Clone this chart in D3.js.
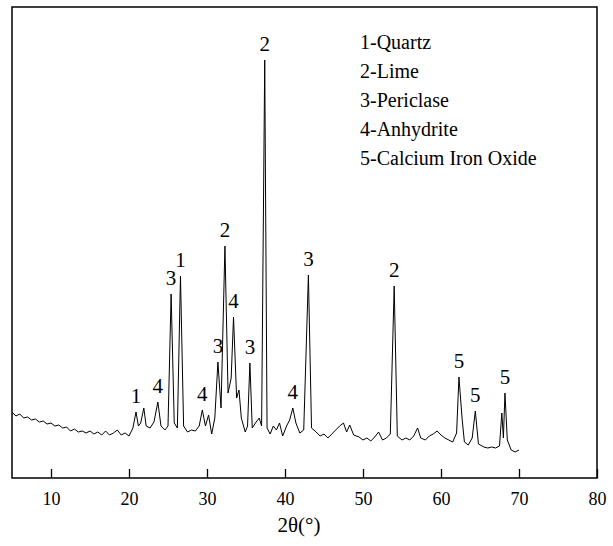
<!DOCTYPE html><html><head><meta charset="utf-8"><script src="https://cdn.jsdelivr.net/npm/d3@7"></script>
<style>body{margin:0;background:#fff}svg text{font-family:"Liberation Serif","Tinos","DejaVu Serif",serif !important}</style></head><body><svg id="c" width="613" height="546"></svg><script>
const xTicks=[10,20,30,40,50,60,70,80];
const spectrum=[[5,66],[5.5,62],[6,64],[6.5,60],[7,61],[7.5,58],[8,59],[8.5,56],[9,57],[9.5,54],[10,55],[10.5,52],[11,53],[11.5,50],[12,51],[12.5,47],[13,49],[13.5,46],[14,47],[14.5,45],[15,47],[15.5,44],[16,46],[16.5,43],[17,47],[17.5,43],[18,45],[18.5,48],[19,43],[19.5,45],[20,42],[20.5,50],[20.9,66],[21.2,52],[21.5,55],[21.9,70],[22.2,52],[22.7,50],[23.2,56],[23.7,76],[24.1,52],[24.6,48],[25,52],[25.4,184],[25.8,55],[26.2,50],[26.6,202],[27,52],[27.5,46],[28,48],[28.5,47],[29,52],[29.4,68],[29.8,52],[30.2,63],[30.6,44],[31,60],[31.4,116],[31.8,70],[32.3,232],[32.7,85],[33.1,100],[33.4,161],[33.8,80],[34.1,88],[34.4,60],[34.9,46],[35.2,52],[35.5,115],[35.8,50],[36.3,56],[36.7,60],[37,52],[37.4,418],[37.7,50],[38.1,44],[38.5,52],[38.9,48],[39.3,55],[39.7,42],[40.2,52],[40.6,58],[41,70],[41.4,55],[41.9,45],[42.4,48],[43,203],[43.4,50],[44,46],[44.5,42],[45,44],[45.5,40],[46,44],[46.5,48],[47,52],[47.5,55],[47.9,46],[48.3,53],[48.8,43],[49.5,41],[50,38],[50.5,40],[51,37],[51.5,41],[52,46],[52.5,38],[53,40],[53.5,44],[54,192],[54.4,42],[55,38],[55.5,40],[56,38],[56.5,42],[57,50],[57.4,40],[58,38],[58.5,42],[59,44],[59.5,47],[60,43],[60.5,40],[61,38],[61.5,36],[62,45],[62.3,101],[62.7,60],[63,36],[63.5,33],[64,40],[64.4,67],[64.8,34],[65.5,31],[66,30],[66.5,31],[67,30],[67.5,32],[67.8,65],[68,40],[68.2,85],[68.5,38],[69,28],[69.5,26],[70,28]];
const peakLabels=[[20.9,"1",66],[23.7,"4",76],[25.4,"3",184],[26.6,"1",202],[29.4,"4",68],[31.4,"3",116],[32.3,"2",232],[33.4,"4",161],[35.5,"3",115],[37.4,"2",418],[41,"4",70],[43,"3",203],[54,"2",192],[62.3,"5",101],[64.4,"5",67],[68.2,"5",85]];
const legendItems=["1-Quartz","2-Lime","3-Periclase","4-Anhydrite","5-Calcium Iron Oxide"];
const svg=d3.select("#c");
const L=12,R=597,T=7,B=478;
const x=d3.scaleLinear().domain([5,80]).range([L,R]);
const y=d3.scaleLinear().domain([0,471]).range([B,T]);
svg.append("rect").attr("x",L).attr("y",T).attr("width",R-L).attr("height",B-T).attr("fill","none").attr("stroke","#000").attr("stroke-width",1.5);
const g=svg.append("g").attr("transform",`translate(0,${B})`);
g.call(d3.axisBottom(x).tickValues(d3.range(6,81,2)).tickSize(-5).tickFormat(""));
g.call(d3.axisBottom(x).tickValues(xTicks).tickSize(-9).tickFormat(d3.format("d")).tickPadding(14));
g.selectAll(".domain").remove();
g.selectAll("text").attr("font-size",18).attr("fill","#000");
g.selectAll("line").attr("stroke","#000").attr("stroke-width",1.3);
svg.append("path").datum(spectrum).attr("fill","none").attr("stroke","#000").attr("stroke-width",1)
 .attr("d",d3.line().x(d=>x(d[0])).y(d=>y(d[1])));
svg.selectAll(".pl").data(peakLabels).enter().append("text").attr("x",d=>x(d[0])).attr("y",d=>y(d[2])-9)
 .attr("text-anchor","middle").attr("font-size",21).text(d=>d[1]);
svg.selectAll(".lg").data(legendItems).enter().append("text").attr("x",360).attr("y",(d,i)=>49+i*29)
 .attr("font-size",20).text(d=>d);
svg.append("text").attr("x",299).attr("y",532).attr("text-anchor","middle").attr("font-size",21).text("2θ(°)");
</script></body></html>
